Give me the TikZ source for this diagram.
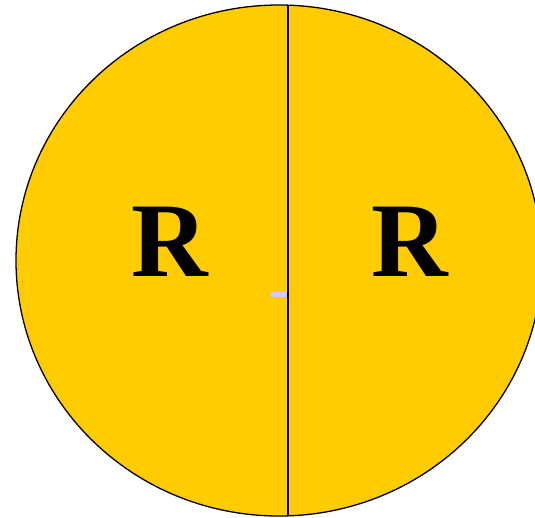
\documentclass[tikz,border=0pt]{standalone}
\usepackage{fontspec}
\setmainfont{Liberation Serif}
\usepackage{xcolor}
\usepackage{tikz}

\definecolor{sun}{RGB}{255,204,0}
\definecolor{tick}{RGB}{204,204,255}

\begin{document}
\begin{tikzpicture}[x=1pt, y=-1pt,
    disc/.style={draw=black, line width=1.3pt, fill=sun},
    divider/.style={draw=black, line width=1.3pt},
    letter/.style={inner sep=0pt, font=\fontsize{106}{106}\selectfont\bfseries}
]
\useasboundingbox (0,0) rectangle (535,517);
\clip (0,0) rectangle (535,517);

\draw[disc] (279,260.5) ellipse [x radius=263, y radius=255.5];

\coordinate (top) at (288,5);
\coordinate (bottom) at (288,516);

\fill[tick] (271,292) rectangle (287,297);
\draw[divider] (top) -- (bottom);

\node[letter] (leftR) at (170,241.5) {R};
\node[letter] (rightR) at (410,241.5) {R};

\end{tikzpicture}
\end{document}
